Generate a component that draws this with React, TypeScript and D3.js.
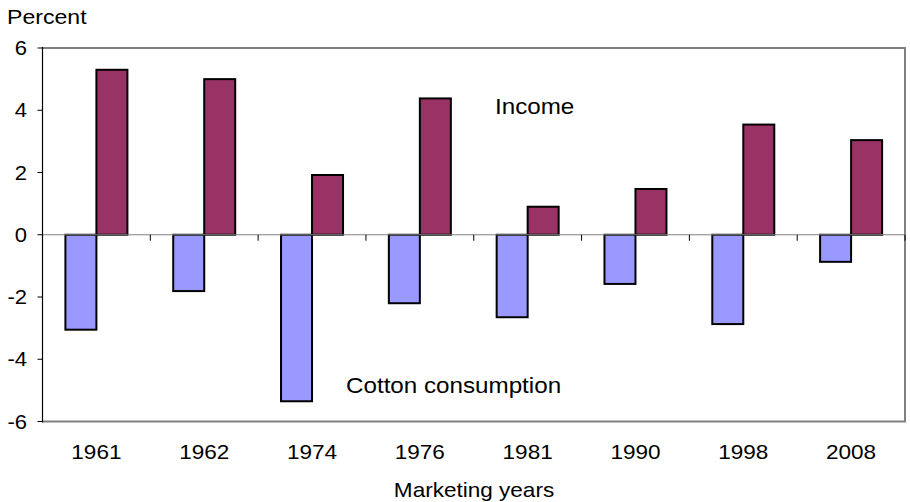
import React, { useEffect, useRef } from "react";
import * as d3 from "d3";

const years = ["1961", "1962", "1974", "1976", "1981", "1990", "1998", "2008"];
const cottonConsumption = [-3.05, -1.81, -5.35, -2.2, -2.65, -1.58, -2.87, -0.87];
const income = [5.3, 5.0, 1.92, 4.38, 0.9, 1.47, 3.54, 3.04];
const yTicks = [-6, -4, -2, 0, 2, 4, 6];

const width = 910;
const height = 502;
const margin = { top: 48, right: 5, bottom: 80.5, left: 42.5 };
const stretch = 1.1; // text in the picture is a bit wider than Arial

const App = () => {
  const ref = useRef<SVGSVGElement>(null);

  useEffect(() => {
    const svg = d3.select(ref.current);
    svg.selectAll("*").remove();

    const font = "'Liberation Sans', Arial, sans-serif";

    const x = d3.scaleBand()
      .domain(years)
      .range([margin.left, width - margin.right]);

    const groupW = 62;
    const x1 = d3.scaleBand()
      .domain(["cotton", "income"])
      .range([0, groupW]);

    const y = d3.scaleLinear()
      .domain([-6, 6])
      .range([height - margin.bottom, margin.top]);

    const addText = (tx, ty, str, size, anchor = "start") => {
      svg.append("text")
        .attr("transform", `translate(${tx},${ty}) scale(${stretch},1)`)
        .attr("font-family", font)
        .attr("font-size", size)
        .attr("text-anchor", anchor)
        .attr("fill", "#000")
        .text(str);
    };

    // frame (top/right/bottom gray)
    const x0 = margin.left, xR = width - margin.right;
    const yT = y(6), yB = y(-6);
    svg.append("path")
      .attr("d", `M${x0},${yT}H${xR}V${yB}H${x0}`)
      .attr("fill", "none")
      .attr("stroke", "#808080")
      .attr("stroke-width", 2);

    // bars
    const series = [
      { key: "cotton", values: cottonConsumption, color: "#9999FF" },
      { key: "income", values: income, color: "#993366" },
    ];
    series.forEach(s => {
      svg.selectAll(`rect.${s.key}`)
        .data(years)
        .enter()
        .append("rect")
        .attr("class", s.key)
        .attr("x", (d) => x(d) + (x.bandwidth() - groupW) / 2 + x1(s.key))
        .attr("width", x1.bandwidth())
        .attr("y", (d, i) => y(Math.max(0, s.values[i])))
        .attr("height", (d, i) => Math.abs(y(s.values[i]) - y(0)))
        .attr("fill", s.color)
        .attr("stroke", "#000")
        .attr("stroke-width", 2);
    });

    // zero line
    svg.append("line")
      .attr("x1", x0).attr("x2", xR)
      .attr("y1", y(0)).attr("y2", y(0))
      .attr("stroke", "#808080")
      .attr("stroke-width", 1.2);

    // category ticks on zero line
    const bounds = years.map(d => x(d)).concat([xR]);
    svg.selectAll("line.xtick")
      .data(bounds)
      .enter()
      .append("line")
      .attr("x1", d => d).attr("x2", d => d)
      .attr("y1", y(0)).attr("y2", y(0) + 6)
      .attr("stroke", "#000")
      .attr("stroke-width", 1);

    // y axis
    svg.append("line")
      .attr("x1", x0).attr("x2", x0)
      .attr("y1", yT - 1).attr("y2", yB + 1)
      .attr("stroke", "#000")
      .attr("stroke-width", 1.2);

    yTicks.forEach(t => {
      svg.append("line")
        .attr("x1", x0 - 5).attr("x2", x0)
        .attr("y1", y(t)).attr("y2", y(t))
        .attr("stroke", "#000")
        .attr("stroke-width", 1);
      addText(27, y(t) + 7, String(t), 20, "end");
    });

    years.forEach(d => {
      addText(x(d) + x.bandwidth() / 2, 459, d, 20.5, "middle");
    });

    addText(7, 24, "Percent", 21);
    addText(474, 497, "Marketing years", 20.5, "middle");
    addText(495, 114, "Income", 22);
    addText(346, 393, "Cotton consumption", 22);
  }, []);

  return (
    <svg
      ref={ref}
      width={width}
      height={height}
      style={{ position: "absolute", left: 0, top: 0, background: "#fff" }}
    ></svg>
  );
};

export default App;
